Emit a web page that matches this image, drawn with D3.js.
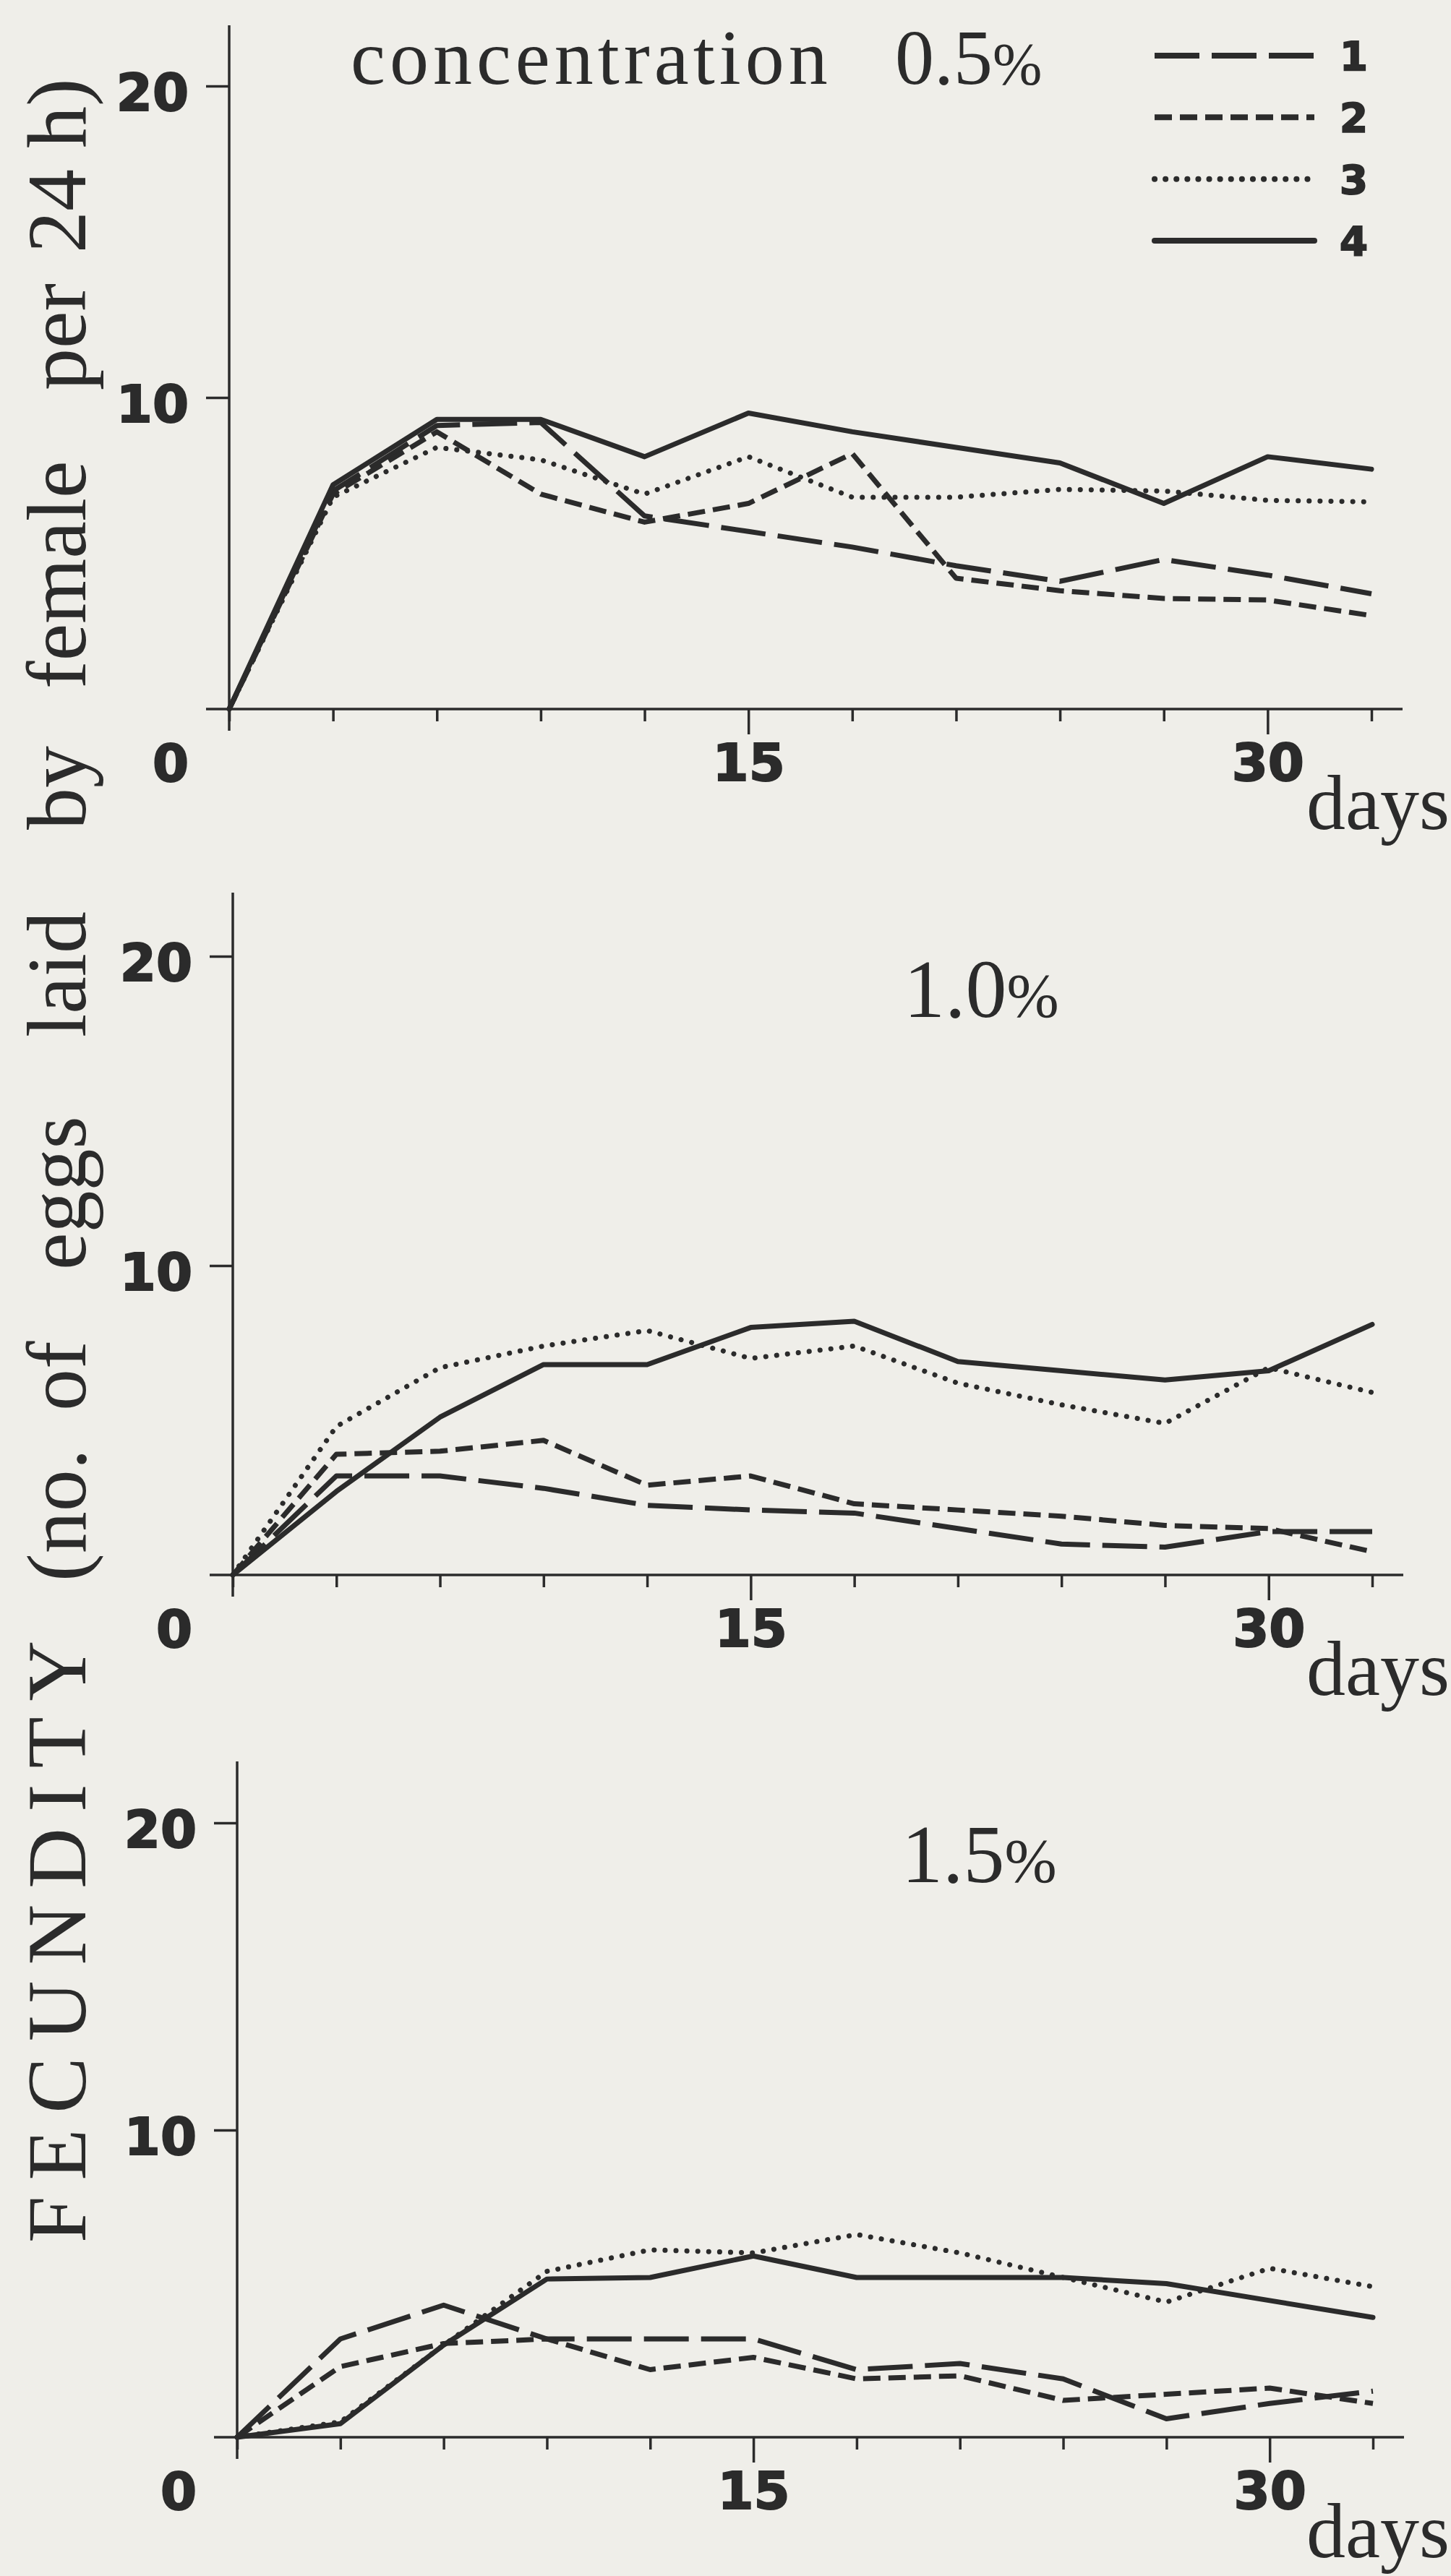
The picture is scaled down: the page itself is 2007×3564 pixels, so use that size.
<!DOCTYPE html>
<html>
<head>
<meta charset="utf-8">
<script src="https://cdn.jsdelivr.net/npm/d3@7"></script>
<style>
  body { margin: 0; background: #efeee9; }
  svg { display: block; }
</style>
</head>
<body>
<div id="chart"></div>
<script>
const width = 2007;
const height = 3564;

// sampling days, one point every 3 days
const days = [0, 3, 6, 9, 12, 15, 18, 21, 24, 27, 30, 33];
const xLabelTicks = [15, 30];
const yTickValues = [10, 20];
const seriesNames = ["1", "2", "3", "4"];

// eggs laid by female per 24 h -- concentration 0.5%
const c05_s1 = [0, 7.0, 9.1, 9.2, 6.2, 5.7, 5.2, 4.6, 4.1, 4.8, 4.3, 3.7];
const c05_s2 = [0, 6.9, 8.9, 6.9, 6.0, 6.6, 8.2, 4.2, 3.8, 3.55, 3.5, 3.0];
const c05_s3 = [0, 6.8, 8.4, 8.0, 6.9, 8.1, 6.8, 6.8, 7.05, 7.0, 6.7, 6.65];
const c05_s4 = [0, 7.2, 9.3, 9.3, 8.1, 9.5, 8.9, 8.4, 7.9, 6.6, 8.1, 7.7];

// concentration 1.0%
const c10_s1 = [0, 3.2, 3.2, 2.8, 2.25, 2.1, 2.0, 1.5, 1.0, 0.9, 1.4, 1.4];
const c10_s2 = [0, 3.9, 4.0, 4.35, 2.9, 3.2, 2.3, 2.1, 1.9, 1.6, 1.5, 0.75];
const c10_s3 = [0, 4.8, 6.7, 7.4, 7.9, 7.0, 7.4, 6.2, 5.5, 4.9, 6.7, 5.9];
const c10_s4 = [0, 2.7, 5.1, 6.8, 6.8, 8.0, 8.2, 6.9, 6.6, 6.3, 6.6, 8.1];

// concentration 1.5%
const c15_s1 = [0, 3.2, 4.3, 3.2, 3.2, 3.2, 2.2, 2.4, 1.9, 0.6, 1.1, 1.5];
const c15_s2 = [0, 2.3, 3.05, 3.2, 2.2, 2.6, 1.9, 2.0, 1.2, 1.4, 1.6, 1.1];
const c15_s3 = [0, 0.5, 3.0, 5.4, 6.1, 6.0, 6.6, 6.0, 5.2, 4.4, 5.5, 4.9];
const c15_s4 = [0, 0.44, 3.0, 5.15, 5.2, 5.9, 5.2, 5.2, 5.2, 5.0, 4.45, 3.9];

const yLabelWords = ["FECUNDITY", "(no.", "of", "eggs", "laid", "by", "female", "per", "24 h)"];

const ink = "#2b2b2b";
const serif = "'Liberation Serif', 'Times New Roman', serif";
const heavy = "'DejaVu Sans', sans-serif";

// dash style per series (1 long dash, 2 short dash, 3 dots, 4 solid)
const dashes = ["62,17", "24,11", "0.1,15", null];
const caps = ["butt", "butt", "round", "round"];

// panel placement on the page
const panels = [
    {series: [c05_s1, c05_s2, c05_s3, c05_s4], x0: 317, x1: 1897, y0: 981, y20: 119, top: 35,
     title: {pre: "concentration", num: "0.5", x: 485, numX: 1238, y: 116, size: 108}},
    {series: [c10_s1, c10_s2, c10_s3, c10_s4], x0: 322, x1: 1898, y0: 2179, y20: 1323, top: 1235,
     title: {pre: null, num: "1.0", x: 1250, numX: 1250, y: 1407, size: 114}},
    {series: [c15_s1, c15_s2, c15_s3, c15_s4], x0: 328, x1: 1899, y0: 3372, y20: 2522, top: 2437,
     title: {pre: null, num: "1.5", x: 1247, numX: 1247, y: 2604, size: 114}}
];

const svg = d3.select("#chart")
    .append("svg")
    .attr("width", width)
    .attr("height", height);

svg.append("rect")
    .attr("width", width)
    .attr("height", height)
    .attr("fill", "#efeee9");

panels.forEach((p, pi) => drawPanel(p, pi));
drawLegend();
drawYLabel();

// heavy numerals, a bit of stroke to get close to the black grotesque of the print
function heavyText(sel, size) {
    sel.attr("fill", ink)
        .style("font-family", heavy)
        .style("font-weight", "bold")
        .style("font-size", size + "px")
        .style("stroke", ink)
        .style("stroke-width", "2px");
}

function drawPanel(p, pi) {
    const xScale = d3.scaleLinear().domain([0, 33]).range([p.x0, p.x1]);
    const yScale = d3.scaleLinear().domain([0, 20]).range([p.y0, p.y20]);
    const g = svg.append("g");

    // x axis: ticks every 3 days, long ticks at 15 and 30
    const xAxis = g.append("g")
        .attr("transform", "translate(0," + p.y0 + ")")
        .call(d3.axisBottom(xScale)
            .tickValues(days)
            .tickSizeInner(17)
            .tickSizeOuter(0)
            .tickPadding(31)
            .tickFormat(d => xLabelTicks.includes(d) ? d : ""));
    xAxis.select(".domain").remove();
    xAxis.selectAll(".tick line")
        .attr("stroke", ink)
        .attr("stroke-width", 3.5)
        .attr("y2", d => xLabelTicks.includes(d) ? 35 : 17);
    heavyText(xAxis.selectAll(".tick text"), 72);

    // y axis
    const yAxis = g.append("g")
        .attr("transform", "translate(" + p.x0 + ",0)")
        .call(d3.axisLeft(yScale)
            .tickValues(yTickValues)
            .tickSizeInner(32)
            .tickSizeOuter(0)
            .tickPadding(24));
    yAxis.select(".domain").remove();
    yAxis.selectAll(".tick line")
        .attr("stroke", ink)
        .attr("stroke-width", 3.5);
    heavyText(yAxis.selectAll(".tick text").attr("dy", "0.47em"), 72);

    // axis lines, y-axis runs a bit past the origin, x-axis starts left of it
    g.append("line")
        .attr("x1", xScale(0)).attr("x2", xScale(0))
        .attr("y1", p.top).attr("y2", yScale(0) + 30)
        .attr("stroke", ink).attr("stroke-width", 3.5);
    g.append("line")
        .attr("x1", xScale(0) - 32).attr("x2", xScale(33) + 43)
        .attr("y1", yScale(0)).attr("y2", yScale(0))
        .attr("stroke", ink).attr("stroke-width", 3.5);

    // the shared "0"
    heavyText(g.append("text")
        .attr("x", xScale(0) - 56)
        .attr("y", yScale(0) + 100)
        .attr("text-anchor", "end")
        .text("0"), 72);

    // days label
    g.append("text")
        .attr("x", 1807)
        .attr("y", yScale(0) + 166)
        .attr("fill", ink)
        .style("font-family", serif)
        .style("font-size", "108px")
        .text("days");

    // title
    const t = g.append("text")
        .attr("x", p.title.x)
        .attr("y", p.title.y)
        .attr("fill", ink)
        .style("font-family", serif)
        .style("font-size", p.title.size + "px");
    if (p.title.pre) {
        t.append("tspan")
            .attr("letter-spacing", 6)
            .text(p.title.pre);
    }
    t.append("tspan").attr("x", p.title.numX).text(p.title.num);
    t.append("tspan").style("font-size", (p.title.size * 0.76) + "px").text("%");

    // data lines
    const line = d3.line()
        .x((d, i) => xScale(days[i]))
        .y(d => yScale(d));

    g.selectAll("path.series")
        .data(p.series)
        .enter()
        .append("path")
        .attr("class", "series")
        .attr("d", line)
        .attr("fill", "none")
        .attr("stroke", ink)
        .attr("stroke-width", 7)
        .attr("stroke-linejoin", "round")
        .attr("stroke-linecap", (d, i) => caps[i])
        .attr("stroke-dasharray", (d, i) => dashes[i]);
}

function drawLegend() {
    const lg = svg.append("g");
    const rowY = d3.scalePoint().domain(seriesNames).range([77, 333]);
    seriesNames.forEach((name, i) => {
        lg.append("line")
            .attr("x1", 1597).attr("x2", 1818)
            .attr("y1", rowY(name)).attr("y2", rowY(name))
            .attr("stroke", ink)
            .attr("stroke-width", 8)
            .attr("stroke-linecap", caps[i])
            .attr("stroke-dasharray", dashes[i]);
        heavyText(lg.append("text")
            .attr("x", 1853)
            .attr("y", rowY(name) + 20)
            .text(name), 56);
    });
}

function drawYLabel() {
    // word start positions along the page (bottom to top)
    const starts = [3103, 2188, 1952, 1757, 1435, 1148, 953, 540, 350];
    const lab = svg.append("text")
        .attr("transform", "translate(118,0) rotate(-90)")
        .attr("fill", ink)
        .style("font-family", serif)
        .style("font-size", "116px");
    yLabelWords.forEach((w, i) => {
        lab.append("tspan")
            .attr("x", -starts[i])
            .attr("y", 0)
            .attr("letter-spacing", i === 0 ? 22 : 0)
            .text(w);
    });
}
</script>
</body>
</html>
